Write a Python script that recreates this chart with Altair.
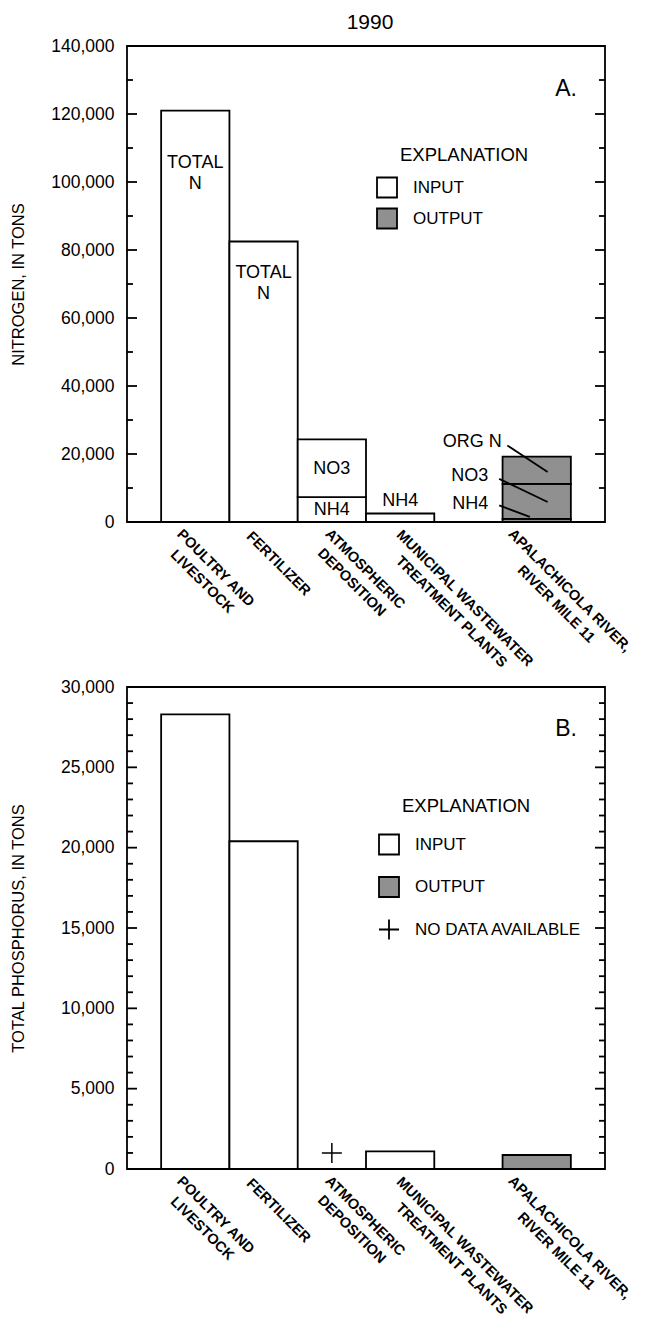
import math
import altair as alt
import pandas as pd

FONT = "Liberation Sans"
GRAY = "#909090"
PLUS = "M-1,0H1M0,-1V1"
LW = 1.8

# ---------------- categories (x slots; " " is the empty slot) ----------------
cat_poultry = "POULTRY AND|LIVESTOCK"
cat_fert = "FERTILIZER"
cat_atm = "ATMOSPHERIC|DEPOSITION"
cat_mun = "MUNICIPAL WASTEWATER|TREATMENT PLANTS"
cat_gap = " "
cat_apal = "APALACHICOLA RIVER,|RIVER MILE 11"
slots = [cat_poultry, cat_fert, cat_atm, cat_mun, cat_gap, cat_apal]

# ---------------- panel A: nitrogen, tons (segments stacked bottom-up) ----------------
n_cat = [cat_poultry, cat_fert, cat_atm, cat_atm, cat_mun, cat_apal, cat_apal, cat_apal]
n_part = ["TOTAL N", "TOTAL N", "NH4", "NO3", "NH4", "NH4", "NO3", "ORG N"]
n_tons = [121000, 82500, 7300, 17000, 2500, 900, 10300, 8000]
n_kind = ["INPUT", "INPUT", "INPUT", "INPUT", "INPUT", "OUTPUT", "OUTPUT", "OUTPUT"]
n_kinds = ["INPUT", "OUTPUT"]
n_ticks_major = [0, 20000, 40000, 60000, 80000, 100000, 120000, 140000]
n_ticks_minor = [10000, 30000, 50000, 70000, 90000, 110000, 130000]

n_lab_text = ["TOTAL\nN", "TOTAL\nN", "NO3", "NH4", "NH4"]
n_lab_cat = [cat_poultry, cat_fert, cat_atm, cat_atm, cat_mun]
n_lab_tons = [105700, 73200, 15500, 3650, 6300]

n_call_text = ["ORG N", "NO3", "NH4"]
n_call_tons = [23500, 13400, 5200]
n_lead_from = [22500, 12700, 4900]
n_lead_to = [14700, 5900, 1500]

# ---------------- panel B: total phosphorus, tons ----------------
p_cat = [cat_poultry, cat_fert, cat_mun, cat_apal]
p_tons = [28300, 20400, 1100, 870]
p_kind = ["INPUT", "INPUT", "INPUT", "OUTPUT"]
p_kinds = ["INPUT", "OUTPUT", "NO DATA AVAILABLE"]
p_nodata_cat = [cat_atm]
p_nodata_tons = [1000]
p_ticks_major = [0, 5000, 10000, 15000, 20000, 25000, 30000]
p_ticks_minor = [1000, 2000, 3000, 4000, 6000, 7000, 8000, 9000, 11000, 12000, 13000,
                 14000, 16000, 17000, 18000, 19000, 21000, 22000, 23000, 24000, 26000,
                 27000, 28000, 29000]

# ---------------- styles ----------------
W, H_A, H_B = 478, 476, 482
XFS = 14.5          # category label font size
call_band = {"ORG N": (cat_gap, 0.99), "NO3": (cat_gap, 0.79), "NH4": (cat_gap, 0.79)}
lead_band = {"ORG N": (cat_apal, 0.07, 0.66), "NO3": (cat_gap, 0.95, 0.66), "NH4": (cat_gap, 0.95, 0.40)}
# where each rotated label block starts, relative to the bar centre on the axis (px)
lab_start = {cat_poultry: (-12, 4), cat_fert: (-10, 7), cat_atm: (0, 4),
             cat_mun: (2, 4), cat_apal: (-22, 4)}
# approximate bold advance widths (em) used to centre the rotated label lines
BOLD_W = {"A": .722, "B": .722, "C": .722, "D": .722, "E": .667, "F": .611, "G": .778,
          "H": .722, "I": .278, "K": .722, "L": .611, "M": .833, "N": .722, "O": .778,
          "P": .667, "R": .722, "S": .667, "T": .611, "U": .722, "V": .667, "W": .944,
          "Y": .667, "Z": .611, " ": .278, ",": .278, "1": .556}


def stacked(cats, vals, kinds, parts):
    base, rows = {}, []
    for c, v, k, p in zip(cats, vals, kinds, parts):
        b = base.get(c, 0)
        rows.append({"cat": c, "part": p, "kind": k, "tons": v, "y0": b, "y1": b + v})
        base[c] = b + v
    return pd.DataFrame(rows)


def label_shift():
    offs, pads = [], []
    for c, (ox, oy) in lab_start.items():
        w1 = max(sum(BOLD_W.get(ch, .667) for ch in line) * XFS for line in c.split("|"))
        s = w1 / 2 / math.sqrt(2)
        test = f"datum.value === '{c}'"
        offs.append({"test": test, "value": round(ox + s, 1)})
        pads.append({"test": test, "value": round(oy + s, 1)})
    return {"condition": offs, "value": 0}, {"condition": pads, "value": 0}


lab_off, lab_pad = label_shift()
xscale = alt.Scale(domain=slots, paddingInner=0, paddingOuter=0.5)
xaxis = alt.Axis(title=None, labelAngle=45, labelAlign="center", labelBaseline="top",
                 labelExpr="split(datum.value, '|')", ticks=False, tickSize=0, domain=False,
                 grid=False, labelFont=FONT, labelFontSize=XFS, labelFontWeight="bold",
                 labelColor="black", labelOffset=lab_off, labelPadding=lab_pad,
                 labelLineHeight=19, labelLimit=500, labelOverlap=False)


def X(field="cat", band=None):
    if band is None:
        return alt.X(f"{field}:N", scale=xscale, axis=xaxis)
    return alt.X(f"{field}:N", scale=xscale, axis=xaxis, bandPosition=band)


def yaxis(title, values, tpad):
    return alt.Axis(title=title, values=values, format=",d", ticks=False, tickSize=0, domain=False,
                    grid=False, labelFont=FONT, labelFontSize=17.5, labelColor="black",
                    labelPadding=13, titleFont=FONT, titleFontSize=16.5, titleFontWeight="normal",
                    titleColor="black", titlePadding=tpad)


def tick_layers(major, minor, ysc, yax):
    out = []
    for vals, ln in ((major, 10), (minor, 6)):
        df = pd.DataFrame({"v": vals})
        for x0, x1 in ((0, ln), (W - ln, W)):
            out.append(alt.Chart(df).mark_rule(color="black", strokeWidth=LW).encode(
                y=alt.Y("v:Q", scale=ysc, axis=yax), x=alt.value(x0), x2=alt.value(x1)))
    return out


def legend(lx, ly, title_pad, row_pad, stype=None):
    kw = dict(title="EXPLANATION", orient="none", legendX=lx, legendY=ly, padding=0,
              titleFont=FONT, titleFontSize=18.5, titleFontWeight="normal", titleColor="black",
              titleAnchor="start", titlePadding=title_pad,
              labelFont=FONT, labelFontSize=17, labelColor="black", labelOffset=15, labelLimit=400,
              symbolSize=400, symbolStrokeColor="black", symbolStrokeWidth=LW,
              symbolOffset=-24, rowPadding=row_pad)
    if stype:
        kw["symbolType"] = stype
    return alt.Legend(**kw)


def text_style(**kw):
    base = dict(font=FONT, fontSize=18, color="black", baseline="middle")
    base.update(kw)
    return base


# ================= panel A =================
ysc_a = alt.Scale(domain=[0, 140000], nice=False)
yax_a = yaxis("NITROGEN, IN TONS", n_ticks_major, 24)
leg_a = legend(273, 100, 12, 3, "square")
fill_a = alt.Scale(domain=n_kinds, range=["white", GRAY])

df_a = stacked(n_cat, n_tons, n_kind, n_part)
bars_a = alt.Chart(df_a).mark_bar(stroke="black", strokeWidth=LW).encode(
    x=X(), y=alt.Y("y0:Q", scale=ysc_a, axis=yax_a), y2="y1:Q",
    fill=alt.Fill("kind:N", scale=fill_a, legend=leg_a))

lab_a = alt.Chart(pd.DataFrame({"cat": n_lab_cat, "tons": n_lab_tons, "text": n_lab_text})).mark_text(
    **text_style(lineBreak="\n", lineHeight=21)).encode(
    x=X(band=0.5), y=alt.Y("tons:Q", scale=ysc_a, axis=yax_a), text="text:N")

call_layers = []
for t, yv, y0, y1 in zip(n_call_text, n_call_tons, n_lead_from, n_lead_to):
    ccat, cb = call_band[t]
    call_layers.append(alt.Chart(pd.DataFrame({"cat": [ccat], "tons": [yv], "text": [t]})).mark_text(
        **text_style(align="right")).encode(
        x=X(band=cb), y=alt.Y("tons:Q", scale=ysc_a, axis=yax_a), text="text:N"))
    lcat, b0, b1 = lead_band[t]
    call_layers.append(alt.Chart(pd.DataFrame({"c0": [lcat], "c1": [cat_apal], "t0": [y0], "t1": [y1]})).mark_rule(
        color="black", strokeWidth=LW).encode(
        x=X("c0", band=b0), x2=alt.X2("c1:N", bandPosition=b1),
        y=alt.Y("t0:Q", scale=ysc_a, axis=yax_a), y2="t1:Q"))

letter_a = alt.Chart(pd.DataFrame({"cat": [cat_apal], "tons": [127400], "text": ["A."]})).mark_text(
    **text_style(fontSize=23)).encode(
    x=X(band=0.93), y=alt.Y("tons:Q", scale=ysc_a, axis=yax_a), text="text:N")

chart_a = alt.layer(bars_a, *tick_layers(n_ticks_major, n_ticks_minor, ysc_a, yax_a),
                    lab_a, *call_layers, letter_a).properties(
    width=W, height=H_A,
    title=alt.TitleParams("1990", font=FONT, fontSize=21, fontWeight="normal", color="black",
                          anchor="middle", frame="group", offset=4, dx=4))

# ================= panel B =================
ysc_b = alt.Scale(domain=[0, 30000], nice=False)
yax_b = yaxis("TOTAL PHOSPHORUS, IN TONS", p_ticks_major, 33.5)
leg_b = legend(275, 110, 18, 14.5)
fill_b = alt.Scale(domain=p_kinds, range=["white", GRAY, "transparent"])
shape_b = alt.Scale(domain=p_kinds, range=["square", "square", PLUS])

df_b = stacked(p_cat, p_tons, p_kind, ["TOTAL P"] * len(p_cat))
bars_b = alt.Chart(df_b).mark_bar(stroke="black", strokeWidth=LW).encode(
    x=X(), y=alt.Y("y0:Q", scale=ysc_b, axis=yax_b), y2="y1:Q",
    fill=alt.Fill("kind:N", scale=fill_b, legend=leg_b))

nod_b = alt.Chart(pd.DataFrame({"cat": p_nodata_cat, "tons": p_nodata_tons,
                                "kind": ["NO DATA AVAILABLE"]})).mark_point(
    size=400, strokeWidth=1.5, stroke="black", opacity=1).encode(
    x=X(band=0.5), y=alt.Y("tons:Q", scale=ysc_b, axis=yax_b),
    shape=alt.Shape("kind:N", scale=shape_b, legend=leg_b),
    fill=alt.Fill("kind:N", scale=fill_b, legend=leg_b))

letter_b = alt.Chart(pd.DataFrame({"cat": [cat_apal], "tons": [27400], "text": ["B."]})).mark_text(
    **text_style(fontSize=23)).encode(
    x=X(band=0.93), y=alt.Y("tons:Q", scale=ysc_b, axis=yax_b), text="text:N")

chart_b = alt.layer(bars_b, *tick_layers(p_ticks_major, p_ticks_minor, ysc_b, yax_b),
                    nod_b, letter_b).properties(width=W, height=H_B)

chart = alt.vconcat(chart_a, chart_b, spacing=165, bounds="flush").resolve_scale(
    x="independent", y="independent", fill="independent", shape="independent"
).resolve_legend(fill="independent", shape="independent").properties(
    padding={"left": 1, "top": 3, "right": 0, "bottom": 0}, background="white"
).configure_view(stroke="black", strokeWidth=LW)

chart.save("out.html", embed_options={"renderer": "svg", "actions": False})
